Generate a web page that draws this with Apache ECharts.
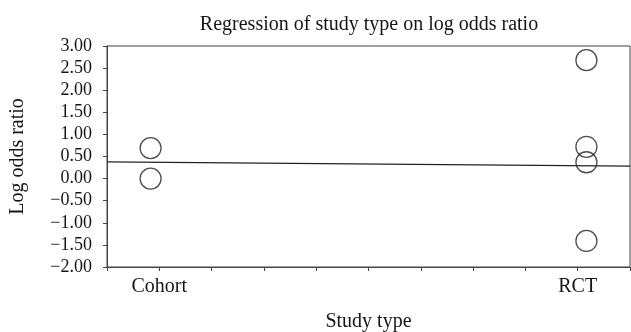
<!DOCTYPE html>
<html>
<head>
<meta charset="utf-8">
<script src="https://cdn.jsdelivr.net/npm/echarts@6/dist/echarts.min.js"></script>
<style>html,body{margin:0;padding:0;background:#fff}#c{width:631px;height:332px}</style>
</head>
<body>
<div id="c"></div>
<script>
// Data
var studyTypes = ["Cohort", "RCT"];
var studyCodes = [1, 11];            // position of each study type on the x scale
var cohortValues = [0.69, 0.0];
var rctValues = [2.68, 0.72, 0.37, -1.41];
var regressionX = [0, 12];
var regressionY = [0.38, 0.28];
var yTicks = [-2, -1.5, -1, -0.5, 0, 0.5, 1, 1.5, 2, 2.5, 3];

var points = [];
cohortValues.forEach(function (v) { points.push([studyCodes[0], v]); });
rctValues.forEach(function (v) { points.push([studyCodes[1], v]); });
var regLine = regressionX.map(function (x, i) { return [x, regressionY[i]]; });

var serif = "'Liberation Serif', 'DejaVu Serif', serif";
var axisColor = '#444';
var textColor = '#151515';
var chart = echarts.init(document.getElementById('c'), null, {renderer: 'canvas'});
chart.setOption({
  animation: false,
  backgroundColor: '#fff',
  title: {
    text: 'Regression of study type on log odds ratio',
    left: 364, top: 10, textAlign: 'center',
    textStyle: {fontFamily: serif, fontSize: 20, fontWeight: 'normal', color: textColor}
  },
  grid: {left: 107, right: 1, top: 46, bottom: 65, show: true, borderColor: axisColor, borderWidth: 1,
         containLabel: false, outerBoundsMode: 'none'},
  xAxis: {
    type: 'value', min: 0, max: 12, interval: 1.2,
    name: 'Study type', nameLocation: 'middle', nameGap: 45,
    nameTextStyle: {fontFamily: serif, fontSize: 20, color: textColor},
    axisLine: {show: true, onZero: false, lineStyle: {color: axisColor, width: 1}},
    axisTick: {show: true, length: 4, lineStyle: {color: axisColor}},
    splitLine: {show: false},
    axisLabel: {
      fontFamily: serif, fontSize: 20, color: textColor, margin: 10,
      formatter: function (v, i) {
        if (Math.abs(v - 1.2) < 1e-6) return studyTypes[0];
        if (Math.abs(v - 10.8) < 1e-6) return studyTypes[1];
        return '';
      }
    }
  },
  yAxis: {
    type: 'value', min: yTicks[0], max: yTicks[yTicks.length - 1], interval: 0.5,
    name: 'Log odds ratio', nameLocation: 'middle', nameGap: 79,
    nameTextStyle: {fontFamily: serif, fontSize: 20, color: textColor},
    axisLine: {show: true, onZero: false, lineStyle: {color: axisColor, width: 1}},
    axisTick: {show: true, length: 4, lineStyle: {color: axisColor}},
    splitLine: {show: false},
    axisLabel: {
      fontFamily: serif, fontSize: 18, color: textColor, margin: 15,
      formatter: function (v) { return (v < 0 ? '\u2212' : '') + Math.abs(v).toFixed(2); }
    }
  },
  series: [
    {
      type: 'line', data: regLine, symbol: 'none',
      lineStyle: {color: '#222', width: 1.2}, z: 2
    },
    {
      type: 'scatter', data: points, symbol: 'circle', symbolSize: 21,
      itemStyle: {color: 'rgba(255,255,255,0)', borderColor: '#222', borderWidth: 1.3}, z: 3
    }
  ]
});
</script>
</body>
</html>
